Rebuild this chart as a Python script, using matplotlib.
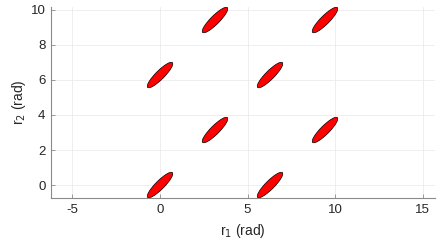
import matplotlib
matplotlib.use("Agg")
import matplotlib.pyplot as plt
from matplotlib.patches import Ellipse
import numpy as np

plt.rcParams['font.family'] = ['Liberation Sans', 'DejaVu Sans']
plt.rcParams['axes.unicode_minus'] = False

# ellipse centres (rad)
cx = [0.0, 6.2832, 3.1416, 9.4248, 0.0, 6.2832, 3.1416, 9.4248]
cy = [0.0, 0.0, 3.1416, 3.1416, 6.2832, 6.2832, 9.4248, 9.4248]
semi_major = 1.0
semi_minor = 0.25
angle_deg = 45.0

xticks = [-5, 0, 5, 10, 15]
yticks = [0, 2, 4, 6, 8, 10]

fig = plt.figure(figsize=(4.43, 2.44), dpi=100)
ax = fig.add_axes([0.115, 0.1885, 0.867, 0.783])

for x, y in zip(cx, cy):
    e = Ellipse((x, y), 2 * semi_major, 2 * semi_minor, angle=angle_deg,
                facecolor='#ff0000', edgecolor='black', linewidth=0.5, zorder=3)
    ax.add_patch(e)

ax.set_xlim(-6.23, 15.71)
ax.set_ylim(-0.74, 10.17)
ax.set_aspect('equal', adjustable='box')
ax.set_xticks(xticks)
ax.set_yticks(yticks)
ax.grid(True, color='#ebebeb', linewidth=0.6, zorder=0)
ax.set_axisbelow(True)

for s in ['top', 'right']:
    ax.spines[s].set_visible(False)
for s in ['left', 'bottom']:
    ax.spines[s].set_color('#8a8a8a')
    ax.spines[s].set_linewidth(0.8)

ax.tick_params(direction='in', length=3, width=0.6, color='#8a8a8a',
               labelcolor='#262626', labelsize=9.5, pad=4)

ax.set_xlabel('r$_1$ (rad)', fontsize=10, color='#262626', labelpad=5)
ax.set_ylabel('r$_2$ (rad)', fontsize=10, color='#262626', labelpad=2)

fig.savefig('out.png', dpi=100)
